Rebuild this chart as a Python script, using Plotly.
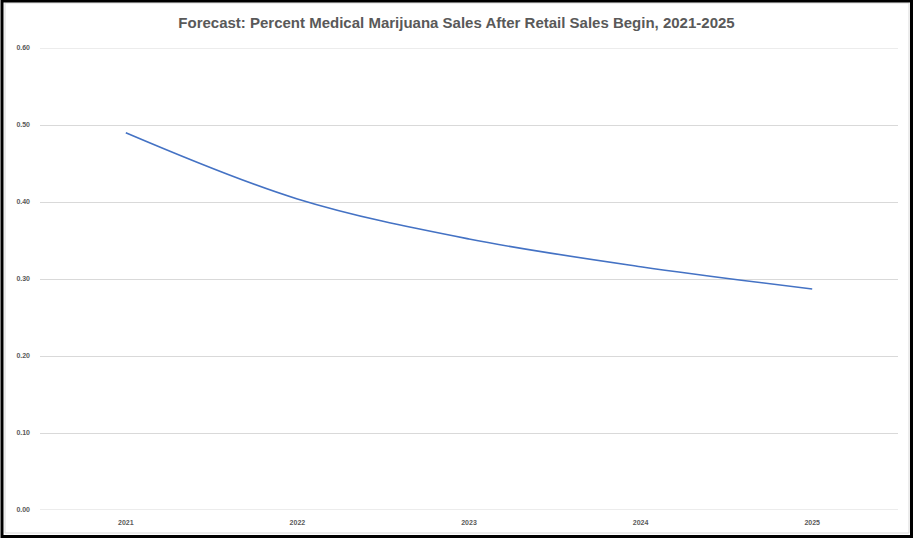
import plotly.graph_objects as go

# Forecast share of medical sales after retail sales begin
years = ["2021", "2022", "2023", "2024", "2025"]
medical_share = [0.490, 0.404, 0.352, 0.316, 0.287]
y_ticks = [0.0, 0.1, 0.2, 0.3, 0.4, 0.5, 0.6]
y_tick_text = ["<b>0.00</b>", "<b>0.10</b>", "<b>0.20</b>", "<b>0.30</b>",
               "<b>0.40</b>", "<b>0.50</b>", "<b>0.60</b>"]
x_tick_text = ["<b>%s</b>" % y for y in years]

W, H = 913, 538
ML, MR, MT, MB = 40, 15, 48, 28
PW, PH = W - ML - MR, H - MT - MB


def px_x(x):
    return (x - ML) / PW


def px_y(y):
    return (H - MB - y) / PH


fig = go.Figure()
fig.add_trace(go.Scatter(
    x=years, y=medical_share, mode="lines",
    line=dict(color="#4472C4", width=1.6, shape="spline", smoothing=1.0),
    hoverinfo="x+y", showlegend=False,
))

label_font = dict(family="Liberation Sans", size=7, color="#595959")

# gridlines at the two range edges
edge_lines = [
    dict(type="line", xref="paper", yref="y", x0=0, x1=1, y0=v, y1=v,
         line=dict(color="#d9d9d9", width=1), layer="below")
    for v in (y_ticks[0], y_ticks[-1])
]

fig.update_layout(
    width=W, height=H,
    margin=dict(l=ML, r=MR, t=MT, b=MB),
    paper_bgcolor="white", plot_bgcolor="white",
    title=dict(
        text="<b>Forecast: Percent Medical Marijuana Sales After Retail Sales Begin, 2021-2025</b>",
        x=0.5, xanchor="center", y=1 - 23 / H, yanchor="middle",
        font=dict(family="Liberation Sans", size=15, color="#595959"),
    ),
    xaxis=dict(
        type="category", range=[-0.5, 4.5], showgrid=False, zeroline=False,
        showline=False, ticks="", tickfont=label_font, ticklabelstandoff=7,
        tickvals=years, ticktext=x_tick_text,
    ),
    yaxis=dict(
        range=[0, 0.6], tickvals=y_ticks, ticktext=y_tick_text,
        showgrid=True, gridcolor="#d9d9d9", gridwidth=1, zeroline=False,
        showline=False, ticks="", tickfont=label_font, ticklabelstandoff=9,
    ),
    shapes=edge_lines + [
        # light chart-area border
        dict(type="rect", xref="paper", yref="paper",
             x0=px_x(5), x1=px_x(909), y0=px_y(533), y1=px_y(3),
             line=dict(color="#d9d9d9", width=1), fillcolor="rgba(0,0,0,0)",
             layer="below"),
        # outer black frame
        dict(type="rect", xref="paper", yref="paper",
             x0=px_x(2), x1=px_x(911.5), y0=px_y(536.5), y1=px_y(1),
             line=dict(color="black", width=3), fillcolor="rgba(0,0,0,0)",
             layer="above"),
    ],
)

fig.write_html("out.html")
